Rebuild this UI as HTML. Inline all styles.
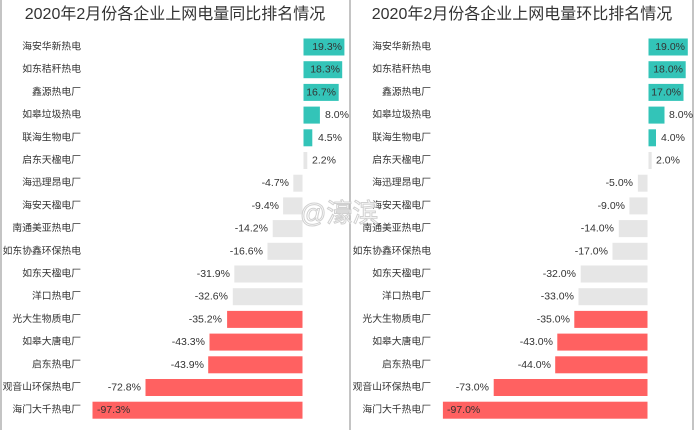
<!DOCTYPE html>
<html><head><meta charset="utf-8"><style>
html,body{margin:0;padding:0;background:#fff;}
svg{display:block;font-family:"Liberation Sans","Noto Sans CJK SC",sans-serif;}
.n{font-size:9.8px;fill:#333;text-anchor:end;dominant-baseline:central;}
.v{font-size:10.5px;fill:#333;dominant-baseline:central;}
.t{font-size:16px;fill:#333;text-anchor:middle;}
.g{fill:#33C4B8;stroke:#fff;stroke-width:1}
.r{fill:#FF6161;stroke:#fff;stroke-width:1}
.e{fill:#E6E6E6;stroke:#fff;stroke-width:1}
</style></head><body>
<svg width="696" height="430" viewBox="0 0 696 430">
<line x1="1" y1="0" x2="1" y2="430" stroke="#888" stroke-width="1"/>
<line x1="350" y1="0" x2="350" y2="430" stroke="#888" stroke-width="1"/>
<line x1="693" y1="0" x2="693" y2="430" stroke="#888" stroke-width="1"/>
<text class="t" x="175" y="19">2020年2月份各企业上网电量同比排名情况</text>
<text class="t" x="522" y="19">2020年2月份各企业上网电量环比排名情况</text>

<!-- LEFT -->
<g>
<rect class="g" x="303" y="38" width="41.9" height="18"/>
<rect class="g" x="303" y="60.7" width="39.7" height="18"/>
<rect class="g" x="303" y="83.4" width="36.2" height="18"/>
<rect class="g" x="303" y="106.1" width="17.4" height="18"/>
<rect class="g" x="303" y="128.8" width="9.8" height="18"/>
<rect class="e" x="303" y="151.5" width="4.8" height="18"/>
<rect class="e" x="292.8" y="174.2" width="10.2" height="18"/>
<rect class="e" x="282.6" y="196.9" width="20.4" height="18"/>
<rect class="e" x="272.2" y="219.6" width="30.8" height="18"/>
<rect class="e" x="267" y="242.3" width="36" height="18"/>
<rect class="e" x="233.8" y="265" width="69.2" height="18"/>
<rect class="e" x="232.3" y="287.7" width="70.7" height="18"/>
<rect class="r" x="226.6" y="310.4" width="76.4" height="18"/>
<rect class="r" x="209" y="333.1" width="94" height="18"/>
<rect class="r" x="207.7" y="355.8" width="95.3" height="18"/>
<rect class="r" x="145" y="378.5" width="158" height="18"/>
<rect class="r" x="92" y="401.2" width="211" height="18"/>
<text class="n" x="81" y="47">海安华新热电</text>
<text class="n" x="81" y="69.7">如东秸秆热电</text>
<text class="n" x="81" y="92.4">鑫源热电厂</text>
<text class="n" x="81" y="115.1">如皋垃圾热电</text>
<text class="n" x="81" y="137.8">联海生物电厂</text>
<text class="n" x="81" y="160.5">启东天楹电厂</text>
<text class="n" x="81" y="183.2">海迅理昂电厂</text>
<text class="n" x="81" y="205.9">海安天楹电厂</text>
<text class="n" x="81" y="228.6">南通美亚热电厂</text>
<text class="n" x="81" y="251.3">如东协鑫环保热电</text>
<text class="n" x="81" y="274">如东天楹电厂</text>
<text class="n" x="81" y="296.7">洋口热电厂</text>
<text class="n" x="81" y="319.4">光大生物质电厂</text>
<text class="n" x="81" y="342.1">如皋大唐电厂</text>
<text class="n" x="81" y="364.8">启东热电厂</text>
<text class="n" x="81" y="387.5">观音山环保热电厂</text>
<text class="n" x="81" y="410.2">海门大千热电厂</text>
<text class="v" x="342" y="47" text-anchor="end">19.3%</text>
<text class="v" x="340" y="69.7" text-anchor="end">18.3%</text>
<text class="v" x="336" y="92.4" text-anchor="end">16.7%</text>
<text class="v" x="325" y="115.1">8.0%</text>
<text class="v" x="318" y="137.8">4.5%</text>
<text class="v" x="312" y="160.5">2.2%</text>
<text class="v" x="289" y="183.2" text-anchor="end">-4.7%</text>
<text class="v" x="279" y="205.9" text-anchor="end">-9.4%</text>
<text class="v" x="268" y="228.6" text-anchor="end">-14.2%</text>
<text class="v" x="263" y="251.3" text-anchor="end">-16.6%</text>
<text class="v" x="230" y="274" text-anchor="end">-31.9%</text>
<text class="v" x="228" y="296.7" text-anchor="end">-32.6%</text>
<text class="v" x="222" y="319.4" text-anchor="end">-35.2%</text>
<text class="v" x="205" y="342.1" text-anchor="end">-43.3%</text>
<text class="v" x="204" y="364.8" text-anchor="end">-43.9%</text>
<text class="v" x="141" y="387.5" text-anchor="end">-72.8%</text>
<text class="v" x="97" y="410.2">-97.3%</text>
</g>

<!-- RIGHT -->
<g>
<rect class="g" x="648" y="38" width="40.3" height="18"/>
<rect class="g" x="648" y="60.7" width="38.2" height="18"/>
<rect class="g" x="648" y="83.4" width="36" height="18"/>
<rect class="g" x="648" y="106.1" width="17" height="18"/>
<rect class="g" x="648" y="128.8" width="8.5" height="18"/>
<rect class="e" x="648" y="151.5" width="4.2" height="18"/>
<rect class="e" x="637.4" y="174.2" width="10.6" height="18"/>
<rect class="e" x="628.9" y="196.9" width="19.1" height="18"/>
<rect class="e" x="618.3" y="219.6" width="29.7" height="18"/>
<rect class="e" x="612" y="242.3" width="36" height="18"/>
<rect class="e" x="580.2" y="265" width="67.8" height="18"/>
<rect class="e" x="578" y="287.7" width="70" height="18"/>
<rect class="r" x="573.8" y="310.4" width="74.2" height="18"/>
<rect class="r" x="556.8" y="333.1" width="91.2" height="18"/>
<rect class="r" x="554.7" y="355.8" width="93.3" height="18"/>
<rect class="r" x="493.2" y="378.5" width="154.8" height="18"/>
<rect class="r" x="442.4" y="401.2" width="205.6" height="18"/>
<text class="n" x="431" y="47">海安华新热电</text>
<text class="n" x="431" y="69.7">如东秸秆热电</text>
<text class="n" x="431" y="92.4">鑫源热电厂</text>
<text class="n" x="431" y="115.1">如皋垃圾热电</text>
<text class="n" x="431" y="137.8">联海生物电厂</text>
<text class="n" x="431" y="160.5">启东天楹电厂</text>
<text class="n" x="431" y="183.2">海迅理昂电厂</text>
<text class="n" x="431" y="205.9">海安天楹电厂</text>
<text class="n" x="431" y="228.6">南通美亚热电厂</text>
<text class="n" x="431" y="251.3">如东协鑫环保热电</text>
<text class="n" x="431" y="274">如东天楹电厂</text>
<text class="n" x="431" y="296.7">洋口热电厂</text>
<text class="n" x="431" y="319.4">光大生物质电厂</text>
<text class="n" x="431" y="342.1">如皋大唐电厂</text>
<text class="n" x="431" y="364.8">启东热电厂</text>
<text class="n" x="431" y="387.5">观音山环保热电厂</text>
<text class="n" x="431" y="410.2">海门大千热电厂</text>
<text class="v" x="685" y="47" text-anchor="end">19.0%</text>
<text class="v" x="683" y="69.7" text-anchor="end">18.0%</text>
<text class="v" x="681" y="92.4" text-anchor="end">17.0%</text>
<text class="v" x="669" y="115.1">8.0%</text>
<text class="v" x="661" y="137.8">4.0%</text>
<text class="v" x="656" y="160.5">2.0%</text>
<text class="v" x="633" y="183.2" text-anchor="end">-5.0%</text>
<text class="v" x="625" y="205.9" text-anchor="end">-9.0%</text>
<text class="v" x="614" y="228.6" text-anchor="end">-14.0%</text>
<text class="v" x="608" y="251.3" text-anchor="end">-17.0%</text>
<text class="v" x="576" y="274" text-anchor="end">-32.0%</text>
<text class="v" x="574" y="296.7" text-anchor="end">-33.0%</text>
<text class="v" x="570" y="319.4" text-anchor="end">-35.0%</text>
<text class="v" x="553" y="342.1" text-anchor="end">-43.0%</text>
<text class="v" x="551" y="364.8" text-anchor="end">-44.0%</text>
<text class="v" x="489" y="387.5" text-anchor="end">-73.0%</text>
<text class="v" x="447" y="410.2">-97.0%</text>
</g>

<text x="300" y="222" font-size="26" fill="#fff" stroke="#ccc" stroke-width="1" opacity="0.9">@濠滨</text>
</svg>
</body></html>
